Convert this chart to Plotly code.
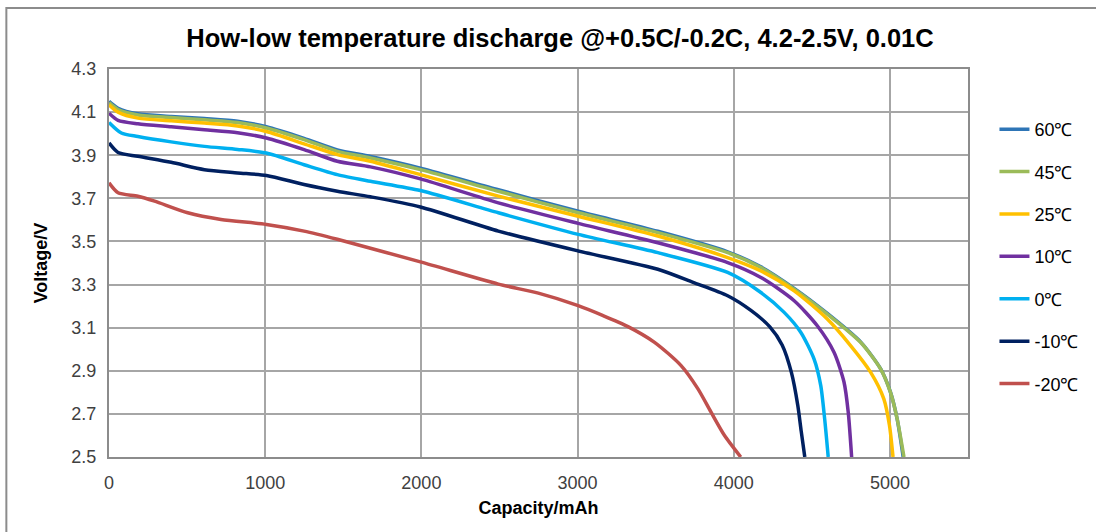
import plotly.graph_objects as go

# ---- data ----
cap_60 = [0, 58, 185, 398, 611, 823, 1008, 1249, 1462, 1674, 1994, 2493, 3004, 3514, 3961, 4174, 4387, 4599, 4812, 4940, 5003, 5046, 5085]
v_60 = [4.150, 4.118, 4.092, 4.080, 4.070, 4.058, 4.032, 3.978, 3.925, 3.894, 3.840, 3.740, 3.640, 3.547, 3.452, 3.382, 3.282, 3.166, 3.034, 2.910, 2.802, 2.678, 2.500]

cap_45 = [0, 58, 185, 398, 611, 823, 1008, 1249, 1462, 1674, 1994, 2493, 3004, 3514, 3961, 4174, 4387, 4599, 4812, 4940, 5003, 5046, 5090]
v_45 = [4.144, 4.112, 4.087, 4.075, 4.064, 4.052, 4.026, 3.972, 3.918, 3.887, 3.833, 3.733, 3.633, 3.541, 3.448, 3.379, 3.279, 3.163, 3.032, 2.909, 2.801, 2.678, 2.500]

cap_25 = [0, 58, 185, 398, 611, 823, 1008, 1249, 1462, 1674, 1994, 2493, 3004, 3514, 3961, 4174, 4387, 4599, 4748, 4876, 4961, 4997, 5020]
v_25 = [4.134, 4.100, 4.072, 4.060, 4.049, 4.036, 4.010, 3.953, 3.903, 3.872, 3.810, 3.710, 3.617, 3.525, 3.425, 3.363, 3.271, 3.140, 3.017, 2.894, 2.770, 2.647, 2.500]

cap_10 = [0, 58, 185, 398, 611, 823, 1008, 1249, 1462, 1674, 1994, 2493, 3004, 3514, 3961, 4174, 4387, 4535, 4642, 4706, 4733, 4755]
v_10 = [4.095, 4.062, 4.046, 4.032, 4.018, 4.004, 3.980, 3.926, 3.872, 3.846, 3.790, 3.679, 3.584, 3.494, 3.402, 3.333, 3.225, 3.109, 2.986, 2.848, 2.709, 2.500]

cap_0 = [0, 79, 185, 398, 611, 823, 1008, 1249, 1462, 1674, 1994, 2493, 3004, 3514, 3961, 4174, 4323, 4429, 4514, 4557, 4582, 4605]
v_0 = [4.052, 4.003, 3.987, 3.962, 3.941, 3.927, 3.910, 3.856, 3.810, 3.779, 3.736, 3.633, 3.533, 3.448, 3.356, 3.263, 3.171, 3.079, 2.955, 2.832, 2.678, 2.500]

cap_m10 = [0, 58, 185, 398, 611, 823, 1008, 1249, 1462, 1674, 1994, 2493, 3004, 3514, 3740, 3961, 4110, 4230, 4310, 4370, 4410, 4432, 4455]
v_m10 = [3.957, 3.913, 3.895, 3.867, 3.833, 3.818, 3.806, 3.764, 3.733, 3.707, 3.660, 3.548, 3.456, 3.371, 3.310, 3.248, 3.180, 3.105, 3.020, 2.890, 2.740, 2.620, 2.500]

cap_m20 = [0, 58, 185, 292, 504, 717, 1008, 1249, 1462, 1994, 2493, 2749, 3004, 3160, 3323, 3493, 3663, 3770, 3854, 3940, 4045]
v_m20 = [3.772, 3.726, 3.710, 3.687, 3.633, 3.602, 3.579, 3.548, 3.510, 3.405, 3.302, 3.260, 3.202, 3.157, 3.105, 3.032, 2.924, 2.817, 2.709, 2.601, 2.500]

series_names = ["60℃", "45℃", "25℃", "10℃", "0℃", "-10℃", "-20℃"]
series_x = [cap_60, cap_45, cap_25, cap_10, cap_0, cap_m10, cap_m20]
series_y = [v_60, v_45, v_25, v_10, v_0, v_m10, v_m20]
series_colors = ["#2E75B6", "#9BBB59", "#FFC000", "#7030A0", "#00B0F0", "#002060", "#C0504D"]

y_ticks = [2.5, 2.7, 2.9, 3.1, 3.3, 3.5, 3.7, 3.9, 4.1, 4.3]
x_ticks = [0, 1000, 2000, 3000, 4000, 5000]

fig = go.Figure()
for i, (name, xs, ys, col) in enumerate(zip(series_names, series_x, series_y, series_colors)):
    fig.add_trace(go.Scatter(
        x=xs, y=ys, name=name, mode="lines",
        line=dict(color=col, width=3.5, shape="spline", smoothing=0.7),
        legendgroup=f"g{i}",
    ))

fam = "Liberation Sans, Arial, sans-serif"

fig.update_layout(
    width=1096, height=532,
    margin=dict(l=109, r=125, t=69, b=75),
    paper_bgcolor="white", plot_bgcolor="white",
    title=dict(
        text="<b>How-low temperature discharge @+0.5C/-0.2C, 4.2-2.5V, 0.01C</b>",
        x=560 / 1096, xanchor="center", y=1 - 38 / 532, yanchor="middle",
        font=dict(family=fam, size=25.5, color="#000000"),
    ),
    font=dict(family=fam, size=18, color="#404040"),
    showlegend=True,
    legend=dict(
        x=1.025 + 5 / 862, xanchor="left", y=1 - (111 - 69) / 388.5, yanchor="top",
        font=dict(family=fam, size=18, color="#000000"),
        tracegroupgap=16, bgcolor="rgba(0,0,0,0)",
    ),
    xaxis=dict(
        range=[0, 5500], tickvals=x_ticks, ticktext=[str(v) for v in x_ticks],
        showgrid=True, gridcolor="#A6A6A6", gridwidth=1.5,
        showline=True, linecolor="#8C8C8C", linewidth=2, mirror=True,
        ticks="outside", ticklen=8, tickcolor="rgba(0,0,0,0)",
        zeroline=False,
        tickfont=dict(family=fam, size=18, color="#404040"),
        title=dict(text="<b>Capacity/mAh</b>", standoff=10,
                   font=dict(family=fam, size=18, color="#000000")),
    ),
    yaxis=dict(
        range=[2.5, 4.3], tickvals=y_ticks, ticktext=[f"{v:.1f}" for v in y_ticks],
        showgrid=True, gridcolor="#A6A6A6", gridwidth=1.5,
        showline=True, linecolor="#8C8C8C", linewidth=2, mirror=True,
        ticks="outside", ticklen=7, tickcolor="rgba(0,0,0,0)",
        zeroline=False,
        tickfont=dict(family=fam, size=18, color="#404040"),
        title=dict(text="<b>Voltage/V</b>", standoff=19,
                   font=dict(family=fam, size=18, color="#000000")),
    ),
    shapes=[dict(
        type="rect", xref="paper", yref="paper",
        x0=(6 - 109) / 862, x1=(1110 - 109) / 862,
        y0=(457.5 - 545) / 388.5, y1=(457.5 - 8) / 388.5,
        line=dict(color="#8C8C8C", width=2), fillcolor="rgba(0,0,0,0)", layer="below",
    )],
)

fig.write_html("out.html")
